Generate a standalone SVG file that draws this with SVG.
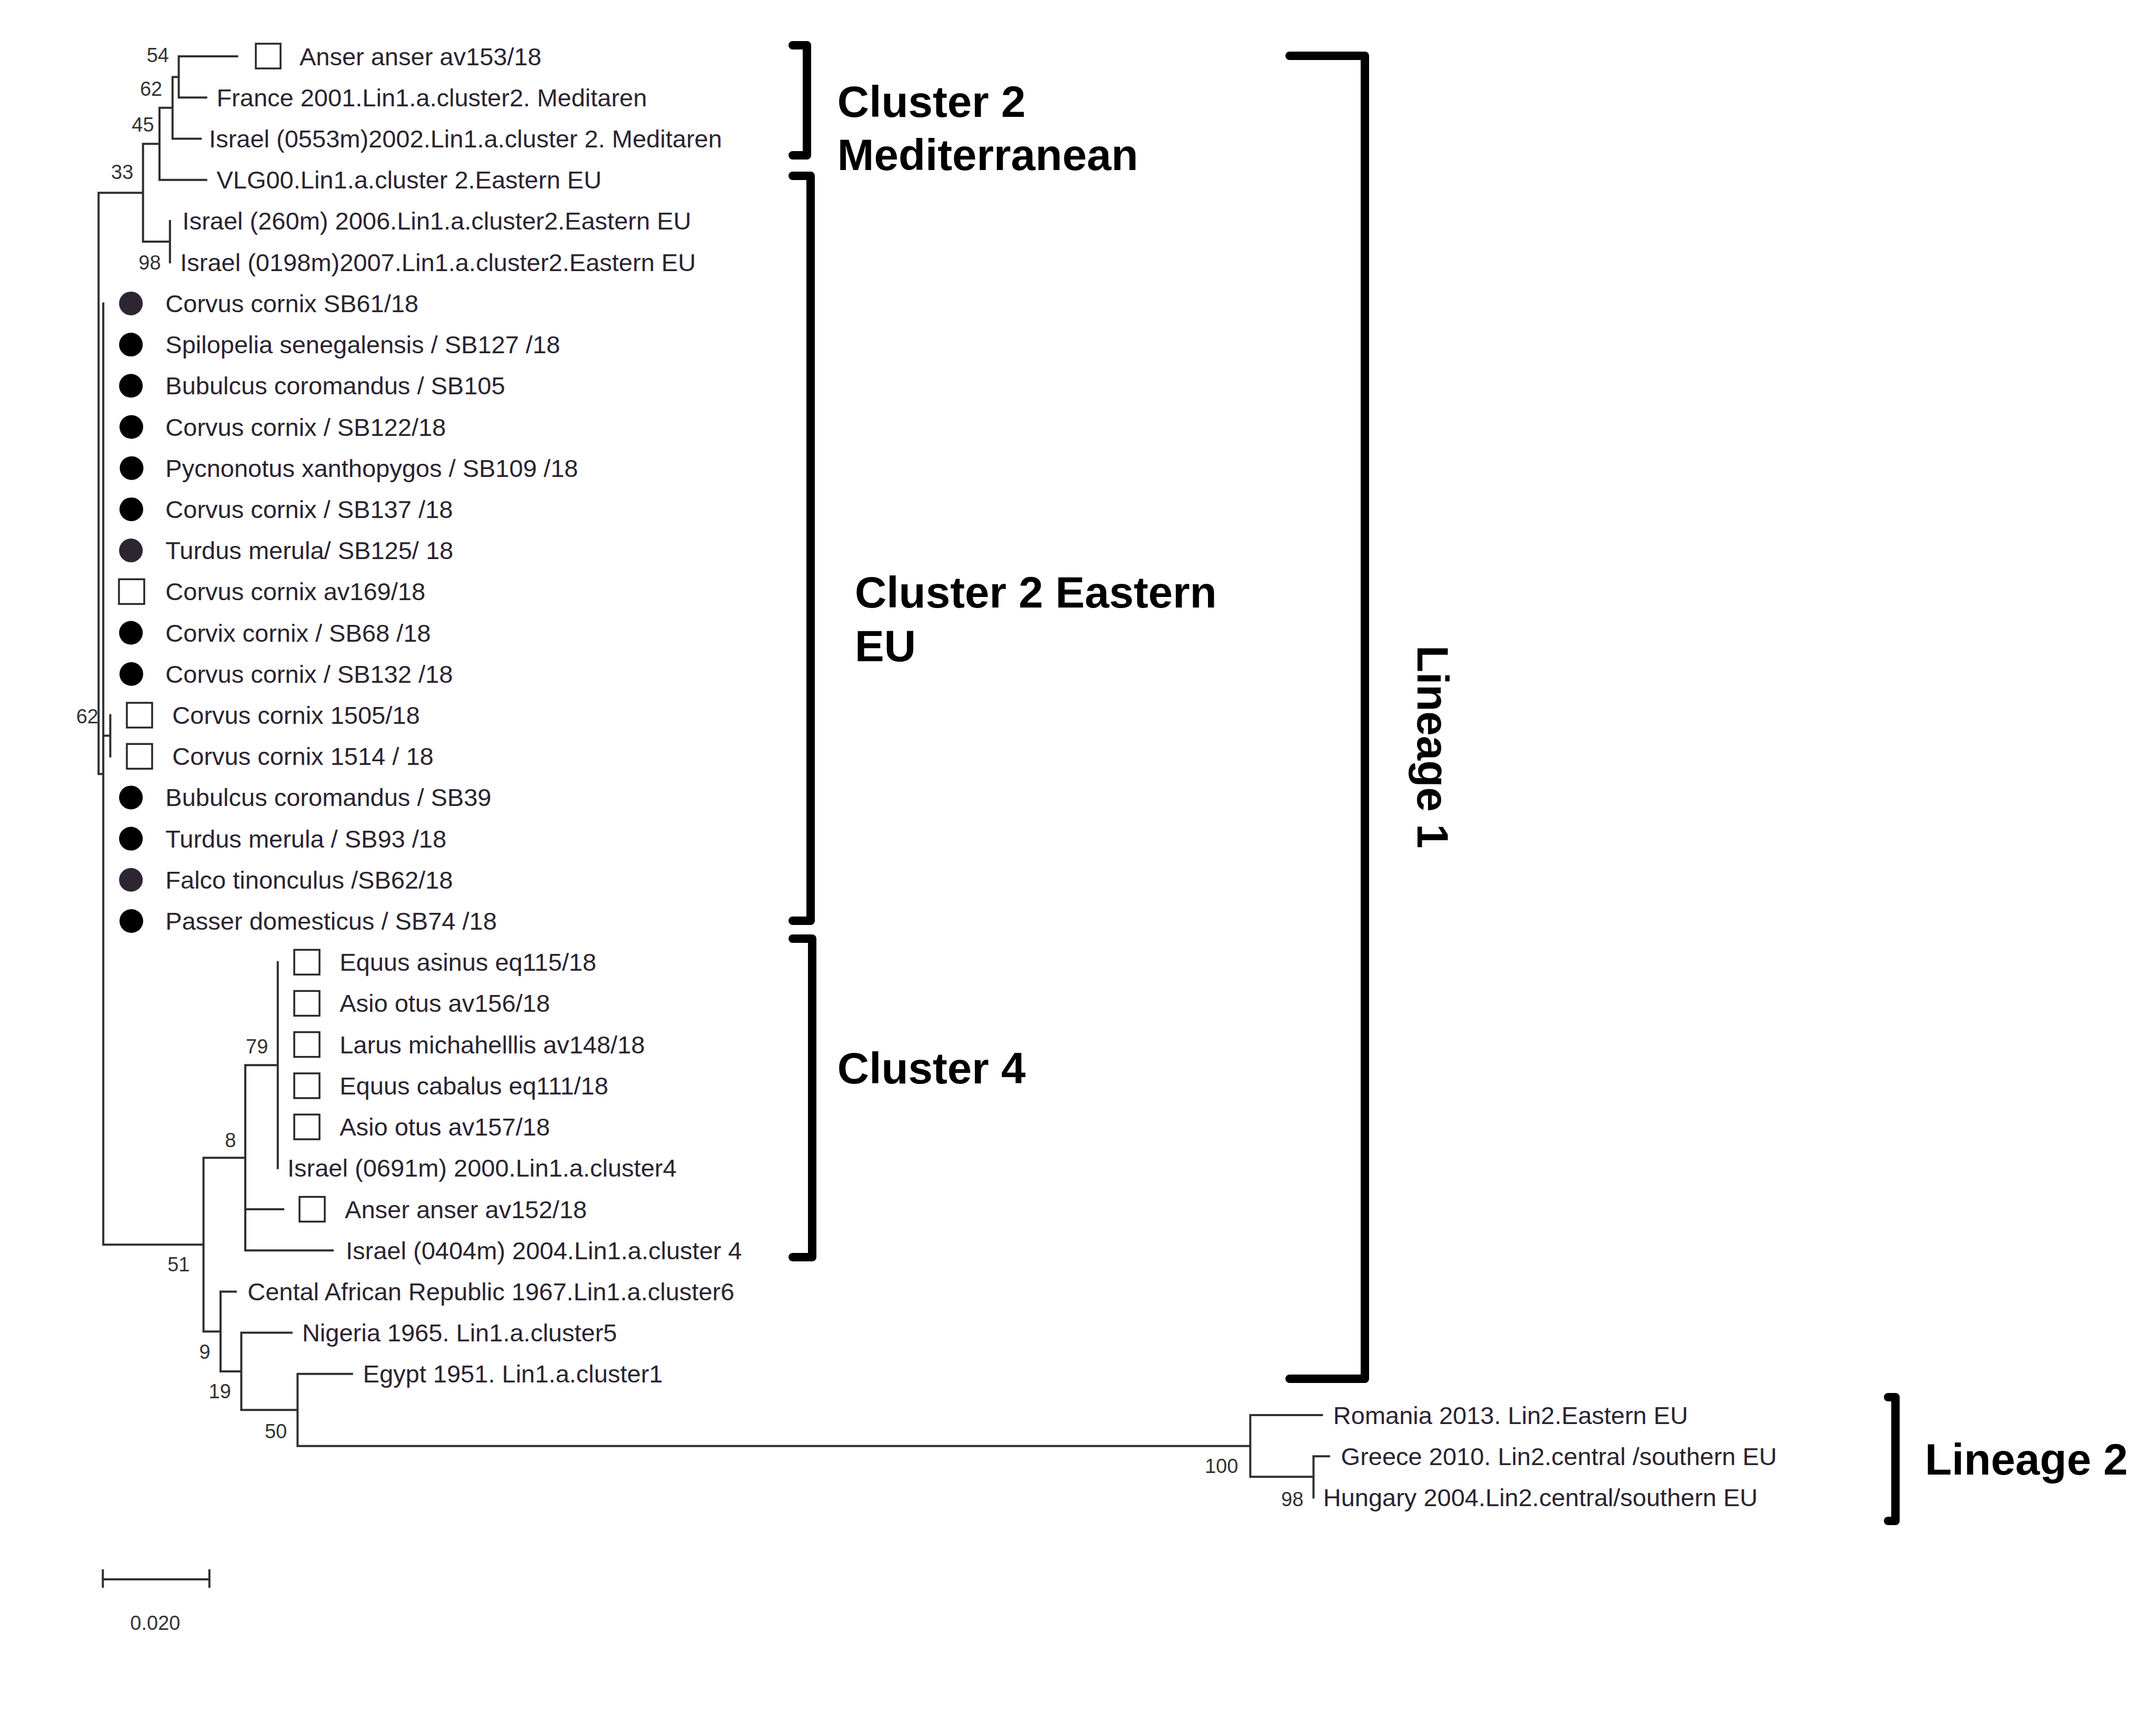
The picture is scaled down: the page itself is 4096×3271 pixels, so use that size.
<svg xmlns="http://www.w3.org/2000/svg" width="4096" height="3271" viewBox="0 0 4096 3271">
<style>
.leaf{font-family:"Liberation Sans",Arial,sans-serif;font-size:47px;fill:#2b2330}
.bs{font-family:"Liberation Sans",Arial,sans-serif;font-size:38px;fill:#333}
.big{font-family:"Liberation Sans",Arial,sans-serif;font-size:83.6px;font-weight:bold;fill:#000}
.tree{fill:none;stroke:#2f2f2f;stroke-width:4;stroke-linecap:square}
.br{fill:none;stroke:#000;stroke-width:16;stroke-linejoin:round;stroke-linecap:round}
.box{fill:#fff;stroke:#2b2330;stroke-width:3.5}
.dot{fill:#000}
.dotp{fill:#2e2533}
</style>
<rect width="4096" height="3271" fill="#fff"/>
<g id="connectors">
<path class="tree" d="M187.3,366.2 V1470.3 M187.3,366.2 H271.7 M187.3,1470.3 H196.2 M196.2,576.4 V2364.2 M196.2,2364.2 H386.6 M196.2,1397.6 H209.5 M209.5,1358.5 V1436.7 M271.7,273.3 V459.05 M271.7,273.3 H303 M303,204.85 V341.7 M303,341.7 H391.8 M303,204.85 H327.8 M327.8,146.2 V263.5 M327.8,263.5 H381.4 M327.8,146.2 H339.6 M339.6,107.1 V185.3 M339.6,107.1 H450.6 M339.6,185.3 H391.8 M271.7,459.05 H322.9 M322.9,419.9 V498.2 M386.6,2199.2 V2529.2 M386.6,2199.2 H466 M466,2023.3 V2375.2 M466,2297 H538.1 M466,2375.2 H632.2 M466,2023.3 H527.7 M527.7,1827.7 V2218.8 M386.6,2529.2 H419 M419,2453.4 V2604.9 M419,2453.4 H448 M419,2604.9 H458.4 M458.4,2531.6 V2678.2 M458.4,2531.6 H553.8 M458.4,2678.2 H565.3 M565.3,2609.8 V2746.7 M565.3,2609.8 H668.7 M565.3,2746.7 H2375.3 M2375.3,2688 V2805.35 M2375.3,2688 H2511.4 M2375.3,2805.35 H2495.4 M2495.4,2766.2 V2844.5 M2495.4,2766.2 H2525"/>
</g>
<g id="bootstrap">
<text class="bs" x="321" y="117.7" text-anchor="end">54</text>
<text class="bs" x="308.2" y="181.7" text-anchor="end">62</text>
<text class="bs" x="292.6" y="249.6" text-anchor="end">45</text>
<text class="bs" x="253.4" y="339.7" text-anchor="end">33</text>
<text class="bs" x="305.6" y="512.1" text-anchor="end">98</text>
<text class="bs" x="187" y="1374.2" text-anchor="end">62</text>
<text class="bs" x="509.4" y="2001" text-anchor="end">79</text>
<text class="bs" x="448.3" y="2178.7" text-anchor="end">8</text>
<text class="bs" x="360.5" y="2415.4" text-anchor="end">51</text>
<text class="bs" x="399.7" y="2581" text-anchor="end">9</text>
<text class="bs" x="438.8" y="2656" text-anchor="end">19</text>
<text class="bs" x="545.2" y="2731.5" text-anchor="end">50</text>
<text class="bs" x="2352.3" y="2797.8" text-anchor="end">100</text>
<text class="bs" x="2476.4" y="2860.5" text-anchor="end" fill="#555">98</text>
</g>
<g id="n0"><rect class="box" x="486" y="83" width="47" height="47"/><text class="leaf" x="568.9" y="123.6">Anser anser av153/18</text></g>
<g id="n1"><text class="leaf" x="411.4" y="201.8">France 2001.Lin1.a.cluster2. Meditaren</text></g>
<g id="n2"><text class="leaf" x="397.1" y="280">Israel (0553m)2002.Lin1.a.cluster 2. Meditaren</text></g>
<g id="n3"><text class="leaf" x="411.4" y="358.2">VLG00.Lin1.a.cluster 2.Eastern EU</text></g>
<g id="n4"><text class="leaf" x="346.6" y="436.4">Israel (260m) 2006.Lin1.a.cluster2.Eastern EU</text></g>
<g id="n5"><text class="leaf" x="342.2" y="514.7">Israel (0198m)2007.Lin1.a.cluster2.Eastern EU</text></g>
<g id="n6"><circle class="dotp" cx="248.7" cy="576.4" r="22.5"/><text class="leaf" x="314.3" y="592.9">Corvus cornix SB61/18</text></g>
<g id="n7"><circle class="dot" cx="248.7" cy="654.6" r="22.5"/><text class="leaf" x="314.3" y="671.1">Spilopelia senegalensis / SB127 /18</text></g>
<g id="n8"><circle class="dot" cx="248.7" cy="732.8" r="22.5"/><text class="leaf" x="314.3" y="749.3">Bubulcus coromandus / SB105</text></g>
<g id="n9"><circle class="dot" cx="249.5" cy="811" r="22.5"/><text class="leaf" x="314.3" y="827.5">Corvus cornix / SB122/18</text></g>
<g id="n10"><circle class="dot" cx="250" cy="889.2" r="22.5"/><text class="leaf" x="314.3" y="905.7">Pycnonotus xanthopygos / SB109 /18</text></g>
<g id="n11"><circle class="dot" cx="249.5" cy="967.4" r="22.5"/><text class="leaf" x="314.3" y="983.9">Corvus cornix / SB137 /18</text></g>
<g id="n12"><circle class="dotp" cx="248.7" cy="1045.6" r="22.5"/><text class="leaf" x="314.3" y="1062.1">Turdus merula/ SB125/ 18</text></g>
<g id="n13"><rect class="box" x="226" y="1100.3" width="48" height="47"/><text class="leaf" x="314.3" y="1140.3">Corvus cornix av169/18</text></g>
<g id="n14"><circle class="dot" cx="248.7" cy="1202" r="22.5"/><text class="leaf" x="314.3" y="1218.5">Corvix cornix / SB68 /18</text></g>
<g id="n15"><circle class="dot" cx="249.5" cy="1280.3" r="22.5"/><text class="leaf" x="314.3" y="1296.8">Corvus cornix / SB132 /18</text></g>
<g id="n16"><rect class="box" x="241" y="1335" width="48" height="47"/><text class="leaf" x="327.3" y="1375">Corvus cornix 1505/18</text></g>
<g id="n17"><rect class="box" x="241" y="1413.2" width="48" height="47"/><text class="leaf" x="327.3" y="1453.2">Corvus cornix 1514 / 18</text></g>
<g id="n18"><circle class="dot" cx="248.7" cy="1514.9" r="22.5"/><text class="leaf" x="314.3" y="1531.4">Bubulcus coromandus / SB39</text></g>
<g id="n19"><circle class="dot" cx="248.7" cy="1593.1" r="22.5"/><text class="leaf" x="314.3" y="1609.6">Turdus merula / SB93 /18</text></g>
<g id="n20"><circle class="dotp" cx="248.7" cy="1671.3" r="22.5"/><text class="leaf" x="314.3" y="1687.8">Falco tinonculus /SB62/18</text></g>
<g id="n21"><circle class="dot" cx="249.5" cy="1749.5" r="22.5"/><text class="leaf" x="314.3" y="1766">Passer domesticus / SB74 /18</text></g>
<g id="n22"><rect class="box" x="559" y="1804.2" width="48" height="47"/><text class="leaf" x="645.2" y="1844.2">Equus asinus eq115/18</text></g>
<g id="n23"><rect class="box" x="559" y="1882.4" width="48" height="47"/><text class="leaf" x="645.2" y="1922.4">Asio otus av156/18</text></g>
<g id="n24"><rect class="box" x="559" y="1960.6" width="48" height="47"/><text class="leaf" x="645.2" y="2000.6">Larus michahelllis av148/18</text></g>
<g id="n25"><rect class="box" x="559" y="2038.9" width="48" height="47"/><text class="leaf" x="645.2" y="2078.9">Equus cabalus eq111/18</text></g>
<g id="n26"><rect class="box" x="559" y="2117.1" width="48" height="47"/><text class="leaf" x="645.2" y="2157.1">Asio otus av157/18</text></g>
<g id="n27"><text class="leaf" x="546" y="2235.3">Israel (0691m) 2000.Lin1.a.cluster4</text></g>
<g id="n28"><rect class="box" x="569" y="2273.5" width="48" height="47"/><text class="leaf" x="655.1" y="2313.5">Anser anser av152/18</text></g>
<g id="n29"><text class="leaf" x="657" y="2391.7">Israel (0404m) 2004.Lin1.a.cluster 4</text></g>
<g id="n30"><text class="leaf" x="470.2" y="2469.9">Cental African Republic 1967.Lin1.a.cluster6</text></g>
<g id="n31"><text class="leaf" x="573.9" y="2548.1">Nigeria 1965. Lin1.a.cluster5</text></g>
<g id="n32"><text class="leaf" x="689.6" y="2626.3">Egypt 1951. Lin1.a.cluster1</text></g>
<g id="n33"><text class="leaf" x="2532.8" y="2704.5">Romania 2013. Lin2.Eastern EU</text></g>
<g id="n34"><text class="leaf" x="2547.6" y="2782.7">Greece 2010. Lin2.central /southern EU</text></g>
<g id="n35"><text class="leaf" x="2513.7" y="2861">Hungary 2004.Lin2.central/southern EU</text></g>
<g id="scale">
<path class="tree" d="M195.4,3000 H397.8 M195.4,2983 V3014 M397.8,2983 V3014"/>
<text class="bs" x="294.9" y="3095.6" text-anchor="middle">0.020</text>
</g>
<g id="brackets">
<path class="br" d="M1506,86 H1533 V295 H1506"/>
<path class="br" d="M1506,334 H1540 V1749 H1506"/>
<path class="br" d="M1506,1783 H1543 V2388 H1506"/>
<path class="br" d="M2450,106 H2593 V2619 H2450"/>
<path class="br" d="M3587,2654 H3601 V2889 H3587"/>
</g>
<g id="group-labels">
<text class="big" x="1590.8" y="222">Cluster 2</text>
<text class="big" x="1590.8" y="322.6">Mediterranean</text>
<text class="big" x="1624" y="1154">Cluster 2 Eastern</text>
<text class="big" x="1624" y="1255.7">EU</text>
<text class="big" x="1590.8" y="2057.9">Cluster 4</text>
<text class="big" transform="translate(2693,1226) rotate(90)">Lineage 1</text>
<text class="big" x="3657" y="2801">Lineage 2</text>
</g>
</svg>
